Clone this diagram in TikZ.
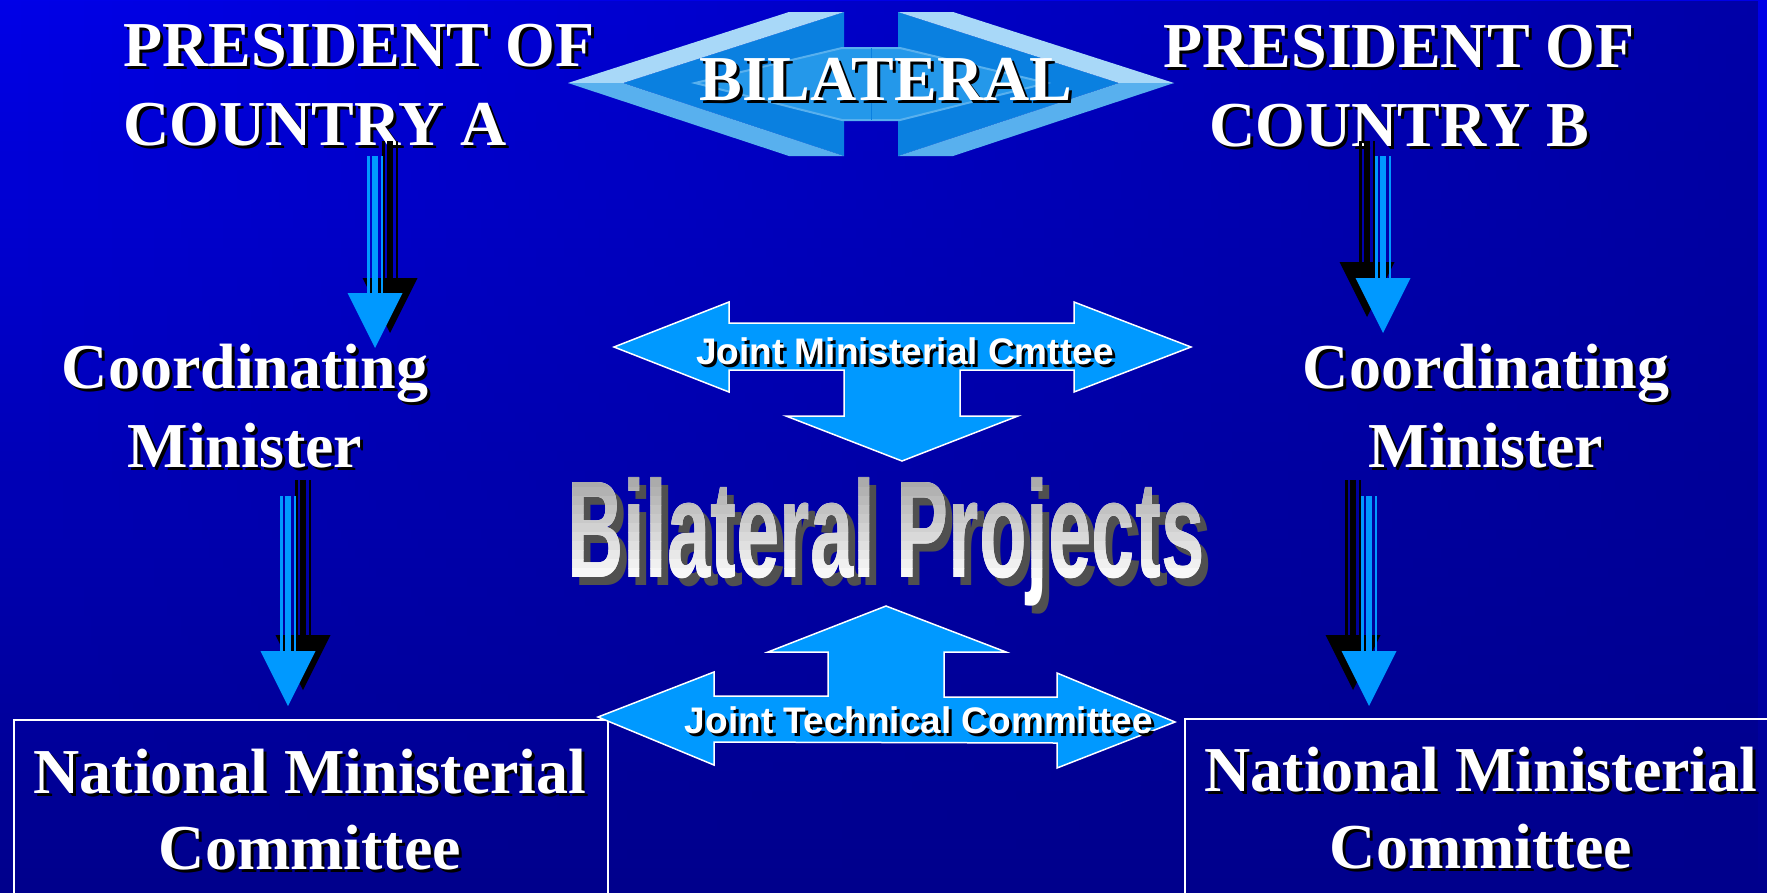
\documentclass[tikz,border=0pt]{standalone}
\usepackage{fontspec}
\setmainfont{Liberation Serif}
\newfontfamily\arialfont{Liberation Sans}
\usepackage{graphicx}
\usetikzlibrary{calc, fadings}

\definecolor{bgtop}{RGB}{0,0,232}
\definecolor{bgbot}{RGB}{0,0,140}
\definecolor{arrowblue}{RGB}{0,153,255}
\definecolor{diadark}{RGB}{10,128,224}
\definecolor{dialight}{RGB}{168,216,248}
\definecolor{diamid}{RGB}{88,176,238}
\definecolor{diainner}{RGB}{36,152,234}
\definecolor{shadowgray}{RGB}{80,80,80}

% white text with a black drop shadow
\newcommand{\shadowtext}[4]{%
  \node[#2, text=black] (#1sh) at ($#3+(3,3)$) {#4};
  \node[#2] (#1) at #3 {#4};
}
% striped down arrow: colour, top, tip
\newcommand{\stripedarrow}[3]{%
  \draw[#1, line width=2.5pt] ([xshift=-6.75pt]#2) -- ([xshift=-6.75pt,yshift=54pt]#3);
  \draw[#1, line width=6pt] (#2) -- ([yshift=54pt]#3);
  \draw[#1, line width=2.5pt] ([xshift=6.75pt]#2) -- ([xshift=6.75pt,yshift=54pt]#3);
  \fill[#1] (#3) -- ++(-27.5,-55) -- ++(55,0) -- cycle;
}

\begin{document}
\begin{tikzpicture}[x=1pt, y=-1pt,
  bigserif/.style={font=\bfseries\fontsize{64}{79}\selectfont, text=white, inner sep=0pt},
  arrowtext/.style={font=\arialfont\bfseries\fontsize{37}{40}\selectfont, text=white, inner sep=0pt, anchor=base},
  projtext/.style={font=\arialfont\bfseries\fontsize{78}{80}\selectfont, text=white, inner sep=0pt, anchor=base},
  bigarrow/.style={fill=arrowblue, draw=white, line width=1.5pt},
  nmcbox/.style={draw=white, line width=1.5pt, minimum height=190pt, inner sep=0pt, anchor=north west}]

  % Background
  \useasboundingbox (0,0) rectangle (1767,892);
  \clip (0,0) rectangle (1767,892);
  \shade[top color=bgtop, bottom color=bgbot] (0,0) rectangle (1767,892);
  \fill[bgbot, path fading=west, fill opacity=0.7] (0,0) rectangle (1767,892);

  % Bilateral emblem
  \fill[diadark] (623,83) -- (844,12) -- (844,156) -- cycle;
  \fill[dialight] (568,83) -- (789,12) -- (844,12) -- (623,83) -- cycle;
  \fill[diamid] (568,83) -- (789,156) -- (844,156) -- (623,83) -- cycle;
  \fill[diadark] (1119,83) -- (898,12) -- (898,156) -- cycle;
  \fill[dialight] (1174,83) -- (953,12) -- (898,12) -- (1119,83) -- cycle;
  \fill[diamid] (1174,83) -- (953,156) -- (898,156) -- (1119,83) -- cycle;
  \filldraw[fill=diainner, draw=diamid, line width=2pt] (695,83) -- (842,48) -- (900,48) -- (1047,83) -- (900,120) -- (842,120) -- cycle;
  \draw[diadark, line width=1pt] (871,48) -- (871,120);
  \shadowtext{bilat}{bigserif, anchor=base}{(886,100)}{BILATERAL}

  % Presidents
  \shadowtext{presA}{bigserif, align=left, anchor=north west}{(123,24)}{PRESIDENT OF\\COUNTRY A}
  \shadowtext{presB}{bigserif, align=center, anchor=north}{(1399,25)}{PRESIDENT OF\\COUNTRY B}

  % Coordinating ministers
  \shadowtext{coordA}{bigserif, align=center, anchor=north}{(245,344)}{Coordinating\\Minister}
  \shadowtext{coordB}{bigserif, align=center, anchor=north}{(1486,344)}{Coordinating\\Minister}

  % National committees
  \node[nmcbox, minimum width=594pt] (boxA) at (13,719) {};
  \node[nmcbox, minimum width=640pt] (boxB) at (1184,718) {};
  \shadowtext{nmcA}{bigserif, align=center, anchor=north, font=\bfseries\fontsize{64}{76}\selectfont}{(310,749)}{National Ministerial\\Committee}
  \shadowtext{nmcB}{bigserif, align=center, anchor=north, font=\bfseries\fontsize{64}{77}\selectfont}{(1481,747)}{National Ministerial\\Committee}

  % Joint Ministerial Cmttee
  \draw[bigarrow] (614,347) -- (729,302) -- (729,323) -- (1074,323) -- (1074,302) -- (1191,347)
    -- (1074,392) -- (1074,370) -- (960,370) -- (960,416) -- (1018,416) -- (902,461)
    -- (786,416) -- (844,416) -- (844,370) -- (729,370) -- (729,392) -- cycle;
  \shadowtext{jmc}{arrowtext}{(905,364)}{Joint Ministerial Cmttee}

  % Joint Technical Committee
  \draw[bigarrow] (598,717) -- (714,672) -- (714,696) -- (828,696) -- (828,652) -- (768,652) -- (886,606)
    -- (1006,652) -- (944,652) -- (944,697) -- (1057,697) -- (1057,673) -- (1175,722)
    -- (1057,768) -- (1057,743) -- (714,742) -- (714,765) -- cycle;
  \shadowtext{jtc}{arrowtext}{(919,733)}{Joint Technical Committee}

  % Bilateral Projects
  \node[projtext, text=shadowgray] (projsh) at (893,585) {\scalebox{1}[1.77]{Bilateral Projects}};
  \node[projtext] (proj) at (886,577) {\scalebox{1}[1.77]{Bilateral Projects}};
  \foreach \i in {0,...,11} {
    \pgfmathtruncatemacro\bandgray{36-3*\i}
    \begin{scope}
      \clip (500,469+9*\i) rectangle (1250,478.6+9*\i);
      \node[projtext, text=black!\bandgray!white] (projband\i) at (886,577) {\scalebox{1}[1.77]{Bilateral Projects}};
    \end{scope}
  }

  % Reporting arrows
  \coordinate (a1top) at (375,156);   \coordinate (a1tip) at (375,348);
  \coordinate (a1topsh) at (390,141); \coordinate (a1tipsh) at (390,333);
  \coordinate (a2top) at (288,496);   \coordinate (a2tip) at (288,706);
  \coordinate (a2topsh) at (303,480); \coordinate (a2tipsh) at (303,690);
  \coordinate (b1top) at (1383,156);  \coordinate (b1tip) at (1383,333);
  \coordinate (b1topsh) at (1367,141);\coordinate (b1tipsh) at (1367,317);
  \coordinate (b2top) at (1369,496);  \coordinate (b2tip) at (1369,706);
  \coordinate (b2topsh) at (1353,480);\coordinate (b2tipsh) at (1353,690);
  \stripedarrow{black}{a1topsh}{a1tipsh}
  \stripedarrow{arrowblue}{a1top}{a1tip}
  \stripedarrow{black}{a2topsh}{a2tipsh}
  \stripedarrow{arrowblue}{a2top}{a2tip}
  \stripedarrow{black}{b1topsh}{b1tipsh}
  \stripedarrow{arrowblue}{b1top}{b1tip}
  \stripedarrow{black}{b2topsh}{b2tipsh}
  \stripedarrow{arrowblue}{b2top}{b2tip}
\end{tikzpicture}
\end{document}
